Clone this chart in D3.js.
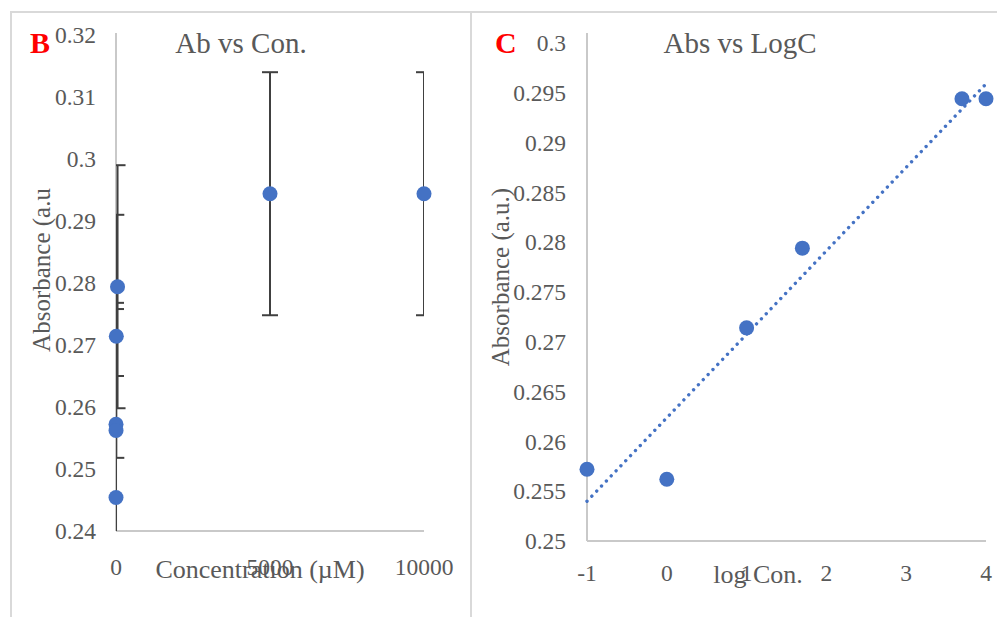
<!DOCTYPE html>
<html>
<head>
<meta charset="utf-8">
<script src="https://cdn.jsdelivr.net/npm/d3@7"></script>
<style>
  html, body { margin: 0; padding: 0; background: #fff; }
  svg { display: block; }
  text { font-family: "Liberation Serif", "Times New Roman", serif; fill: #595959; }
</style>
</head>
<body>
<svg id="chart" width="997" height="617"></svg>
<script>
// Absorbance readings at each concentration (µM), with error
const concentrations = [0, 0.1, 1, 10, 50, 5000, 10000];
const absorbance     = [0.2454, 0.2572, 0.2562, 0.2714, 0.2794, 0.2944, 0.2944];
const errorValues    = [0.0196, 0.0196, 0.0196, 0.0196, 0.0196, 0.0196, 0.0196];

// Tick labels
const concTicks   = [0, 5000, 10000];
const absTicksB   = [0.24, 0.25, 0.26, 0.27, 0.28, 0.29, 0.30, 0.31, 0.32];
const logTicks    = [-1, 0, 1, 2, 3, 4];
const absTicksC   = [0.25, 0.255, 0.26, 0.265, 0.27, 0.275, 0.28, 0.285, 0.29, 0.295, 0.30];

const BLUE = "#4472C4";
const AXIS = "#C9C9C9";
const ERR = "#404040";

const svg = d3.select("#chart");

// Panel frames
svg.append("path")
  .attr("d", "M11,617 V12 H997 M471,12 V617")
  .attr("fill", "none").attr("stroke", "#D9D9D9").attr("stroke-width", 2);

// ---------- Panel B: absorbance vs concentration ----------
const xB = d3.scaleLinear().domain([0, 10000]).range([116, 424]);
const yB = d3.scaleLinear().domain([0.24, 0.32]).range([531, 35]);

const gB = svg.append("g");
const dataB = concentrations.map((c, i) => ({ c, a: absorbance[i], e: errorValues[i] }));

svg.append("clipPath").attr("id", "clipB")
  .append("rect")
  .attr("x", xB.range()[0]).attr("y", yB.range()[1])
  .attr("width", xB.range()[1] - xB.range()[0])
  .attr("height", yB.range()[0] - yB.range()[1]);

// axis lines
gB.append("line").attr("x1", xB(0)).attr("x2", xB(0)).attr("y1", yB(0.32) - 2).attr("y2", yB(0.24))
  .attr("stroke", AXIS).attr("stroke-width", 2);
gB.append("line").attr("x1", xB(0)).attr("x2", xB(10000)).attr("y1", yB(0.24)).attr("y2", yB(0.24))
  .attr("stroke", AXIS).attr("stroke-width", 2);

// y tick labels
gB.selectAll(".ytB").data(absTicksB).join("text")
  .attr("x", 96).attr("y", d => yB(d)).attr("dy", "0.35em")
  .attr("text-anchor", "end").attr("font-size", 23.5)
  .text(d => d3.format("~g")(d));

// x tick labels
gB.selectAll(".xtB").data(concTicks).join("text")
  .attr("x", d => xB(d)).attr("y", yB(0.24) + 36).attr("dy", "0.35em")
  .attr("text-anchor", "middle").attr("font-size", 23.5)
  .text(d => d);

// error bars (clipped to the plot area)
const errB = gB.append("g").attr("clip-path", "url(#clipB)")
  .attr("stroke", ERR).attr("stroke-width", 2).attr("fill", "none");
dataB.forEach(d => {
  const x = xB(d.c), y1 = yB(d.a + d.e), y2 = yB(d.a - d.e);
  errB.append("line").attr("x1", x).attr("x2", x).attr("y1", y1).attr("y2", y2);
  errB.append("line").attr("x1", x - 8).attr("x2", x + 8).attr("y1", y1).attr("y2", y1);
  errB.append("line").attr("x1", x - 8).attr("x2", x + 8).attr("y1", y2).attr("y2", y2);
});

// markers
gB.selectAll(".ptB").data(dataB).join("circle")
  .attr("cx", d => xB(d.c)).attr("cy", d => yB(d.a)).attr("r", 7.5)
  .attr("fill", BLUE);

// titles
gB.append("text").attr("x", 241).attr("y", 53).attr("text-anchor", "middle")
  .attr("font-size", 29).text("Ab vs Con.");
gB.append("text").attr("x", 260).attr("y", 578).attr("text-anchor", "middle")
  .attr("font-size", 26).text("Concentration (µM)");
gB.append("text").attr("transform", "translate(41,270) rotate(-90)")
  .attr("text-anchor", "middle").attr("dy", "0.35em")
  .attr("font-size", 25).text("Absorbance (a.u");
gB.append("text").attr("x", 30).attr("y", 53).attr("font-size", 30)
  .attr("font-weight", "bold").style("fill", "#FF0000").text("B");

// ---------- Panel C: absorbance vs log concentration ----------
const xC = d3.scaleLinear().domain([-1, 4]).range([587, 986]);
const yC = d3.scaleLinear().domain([0.25, 0.30]).range([541, 43]);

const gC = svg.append("g");
const dataC = dataB.filter(d => d.c > 0).map(d => ({ x: Math.log10(d.c), y: d.a }));

gC.append("line").attr("x1", xC(-1)).attr("x2", xC(-1)).attr("y1", yC(0.30) - 10).attr("y2", yC(0.25))
  .attr("stroke", AXIS).attr("stroke-width", 2);
gC.append("line").attr("x1", xC(-1)).attr("x2", xC(4)).attr("y1", yC(0.25)).attr("y2", yC(0.25))
  .attr("stroke", AXIS).attr("stroke-width", 2);

gC.selectAll(".ytC").data(absTicksC).join("text")
  .attr("x", 566).attr("y", d => yC(d)).attr("dy", "0.35em")
  .attr("text-anchor", "end").attr("font-size", 23.5)
  .text(d => d3.format("~g")(d));

gC.selectAll(".xtC").data(logTicks).join("text")
  .attr("x", d => xC(d)).attr("y", yC(0.25) + 32).attr("dy", "0.35em")
  .attr("text-anchor", "middle").attr("font-size", 23.5)
  .text(d => d);

// least-squares linear trendline
const mx = d3.mean(dataC, d => d.x), my = d3.mean(dataC, d => d.y);
const slope = d3.sum(dataC, d => (d.x - mx) * (d.y - my)) / d3.sum(dataC, d => (d.x - mx) ** 2);
const intercept = my - slope * mx;
const trend = [-1, 4].map(x => ({ x, y: intercept + slope * x }));
gC.append("path")
  .attr("d", d3.line().x(d => xC(d.x)).y(d => yC(d.y))(trend))
  .attr("fill", "none").attr("stroke", BLUE).attr("stroke-width", 3.4)
  .attr("stroke-linecap", "round").attr("stroke-dasharray", "0.01 7");

gC.selectAll(".ptC").data(dataC).join("circle")
  .attr("cx", d => xC(d.x)).attr("cy", d => yC(d.y)).attr("r", 7.5)
  .attr("fill", BLUE);

gC.append("text").attr("x", 740).attr("y", 53).attr("text-anchor", "middle")
  .attr("font-size", 29).text("Abs vs LogC");
gC.append("text").attr("x", 758).attr("y", 583).attr("text-anchor", "middle")
  .attr("font-size", 26).text("log Con.");
gC.append("text").attr("transform", "translate(500,277) rotate(-90)")
  .attr("text-anchor", "middle").attr("dy", "0.35em")
  .attr("font-size", 25).text("Absorbance (a.u.)");
gC.append("text").attr("x", 495).attr("y", 53).attr("font-size", 30)
  .attr("font-weight", "bold").style("fill", "#FF0000").text("C");
</script>
</body>
</html>
